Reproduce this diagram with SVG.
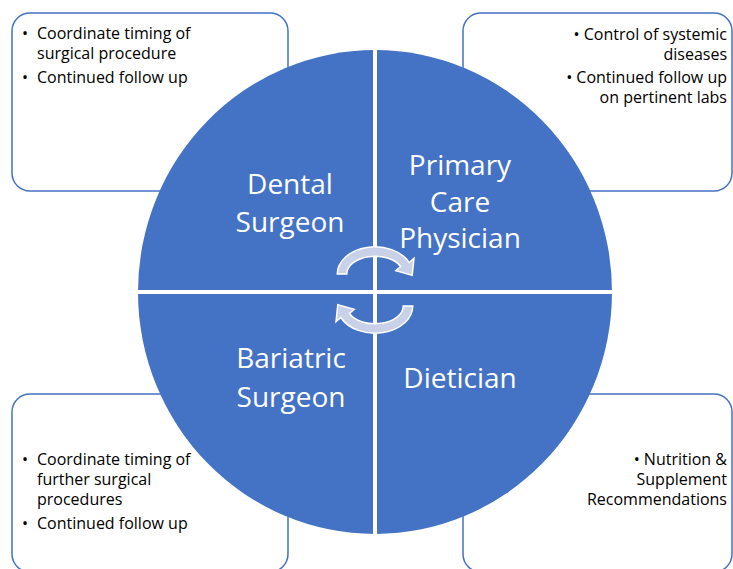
<svg xmlns="http://www.w3.org/2000/svg" width="733" height="569" viewBox="0 0 733 569">
  <style>
    .box { fill: #ffffff; stroke: #4472C4; stroke-width: 1.5; }
    .note { font-family: "Open Sans", "Noto Sans", sans-serif; font-size: 16px; fill: #000000; }
    .right { text-anchor: end; }
    .label { font-family: "Open Sans", "Noto Sans", sans-serif; font-size: 28px; fill: #ffffff; text-anchor: middle; }
    .quad { fill: #4472C4; }
    .cycle { fill: #C9D1E8; stroke: #ffffff; stroke-width: 1.5; stroke-linejoin: miter; }
  </style>
  <defs>
    <!-- curved arrow around centre point (375,274), pointing clockwise -->
    <path id="curl" d="M 337.25,274 A 37.75 27.25 0 0 1 409.2,262.5 L 414,258.3 L 412.2,275.2 L 395.8,270.7 L 400.6,266.5 A 28.25 17.75 0 0 0 346.75,274 Z"/>
  </defs>

  <rect width="733" height="569" fill="#ffffff"/>

  <!-- note boxes behind the wheel -->
  <g id="note-dental">
    <rect class="box" x="12" y="13" width="276" height="178" rx="18"/>
    <text class="note" x="22" y="39">•</text>
    <text class="note" x="37" y="39">Coordinate timing of</text>
    <text class="note" x="37" y="59">surgical procedure</text>
    <text class="note" x="22" y="83">•</text>
    <text class="note" x="37" y="83">Continued follow up</text>
  </g>
  <g id="note-primary">
    <rect class="box" x="463" y="13" width="269" height="178" rx="18"/>
    <text class="note right" x="727" y="40">• Control of systemic</text>
    <text class="note right" x="727" y="60">diseases</text>
    <text class="note right" x="727" y="83">• Continued follow up</text>
    <text class="note right" x="727" y="103">on pertinent labs</text>
  </g>
  <g id="note-bariatric">
    <rect class="box" x="12" y="394" width="276" height="178" rx="18"/>
    <text class="note" x="22" y="465">•</text>
    <text class="note" x="37" y="465">Coordinate timing of</text>
    <text class="note" x="37" y="485">further surgical</text>
    <text class="note" x="37" y="505">procedures</text>
    <text class="note" x="22" y="529">•</text>
    <text class="note" x="37" y="529">Continued follow up</text>
  </g>
  <g id="note-dietician">
    <rect class="box" x="463" y="394" width="269" height="178" rx="18"/>
    <text class="note right" x="727" y="465">• Nutrition &amp;</text>
    <text class="note right" x="727" y="485">Supplement</text>
    <text class="note right" x="727" y="505">Recommendations</text>
  </g>

  <!-- the wheel: four quadrants separated by white gaps -->
  <g id="wheel">
    <ellipse class="quad" cx="375" cy="292" rx="237" ry="242"/>
    <line x1="375" y1="40" x2="375" y2="545" stroke="#ffffff" stroke-width="4"/>
    <line x1="128" y1="292" x2="622" y2="292" stroke="#ffffff" stroke-width="4"/>
  </g>

  <g id="dental-surgeon">
    <text class="label" x="290" y="194">Dental</text>
    <text class="label" x="290" y="232">Surgeon</text>
  </g>
  <g id="primary-care">
    <text class="label" x="460" y="175">Primary</text>
    <text class="label" x="460" y="212">Care</text>
    <text class="label" x="460" y="248">Physician</text>
  </g>
  <g id="bariatric-surgeon">
    <text class="label" x="291" y="368">Bariatric</text>
    <text class="label" x="291" y="407">Surgeon</text>
  </g>
  <g id="dietician">
    <text class="label" x="460" y="388">Dietician</text>
  </g>

  <!-- circular cycle arrows in the middle -->
  <g id="connectors">
    <use href="#curl" class="cycle"/>
    <use href="#curl" class="cycle" transform="rotate(180 375 290)"/>
  </g>
</svg>
